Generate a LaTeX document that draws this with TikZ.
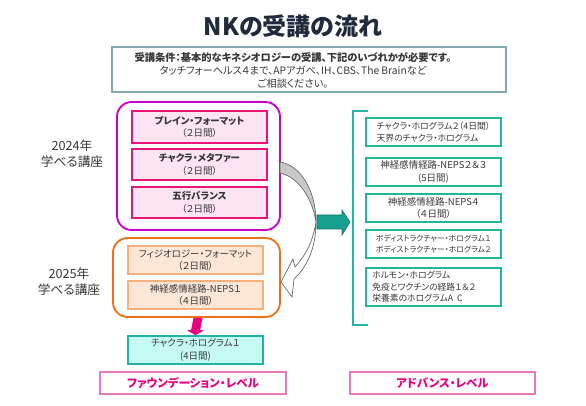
\documentclass[tikz,border=0pt]{standalone}
\usepackage{fontspec}
\setmainfont{Noto Sans CJK JP}[RawFeature=+palt]
\usetikzlibrary{calc,fit}
\definecolor{titlecol}{RGB}{31,42,58}
\definecolor{txt}{RGB}{55,55,55}
\definecolor{condline}{RGB}{130,168,176}
\definecolor{magout}{RGB}{204,0,204}
\definecolor{pinkline}{RGB}{232,20,120}
\definecolor{pinkfill}{RGB}{252,228,240}
\definecolor{orgout}{RGB}{240,112,24}
\definecolor{orgline}{RGB}{246,176,124}
\definecolor{orgfill}{RGB}{252,230,214}
\definecolor{tealc}{RGB}{32,180,164}
\definecolor{aquafill}{RGB}{196,250,242}
\definecolor{magarrow}{RGB}{232,0,128}
\definecolor{tealarrow}{RGB}{22,160,142}
\definecolor{tealdark}{RGB}{20,120,110}
\definecolor{lvlline}{RGB}{232,120,190}
\definecolor{lvltext}{RGB}{232,0,128}
\definecolor{crescent}{RGB}{200,200,200}
\definecolor{arrline}{RGB}{100,100,100}
\begin{document}
\begin{tikzpicture}[x=0.75pt,y=-0.75pt,
  fitbox/.style={inner sep=0pt, fit={#1}},
  outerbox/.style={fitbox={#1}, rounded corners=11pt, line width=1.4pt},
  pinkbox/.style={fitbox={#1}, draw=pinkline, fill=pinkfill, line width=1.4pt},
  orgbox/.style={fitbox={#1}, draw=orgline, fill=orgfill, line width=1.2pt},
  tealbox/.style={fitbox={#1}, draw=tealc, line width=1.2pt},
  lvlbox/.style={fitbox={#1}, draw=lvlline, line width=0.9pt},
  boxtxt/.style={align=center, text=txt, inner sep=0pt, font=\fontsize{7.1}{9.2}\selectfont},
  lefttxt/.style={align=left, text=txt, inner sep=0pt, font=\fontsize{6.6}{8.6}\selectfont},
  yeartxt/.style={align=center, text=txt, inner sep=0pt, font=\fontsize{9.5}{12}\selectfont},
  lvltxt/.style={text=lvltext, inner sep=0pt, font=\fontsize{8.6}{10}\selectfont\bfseries}
]
\useasboundingbox (0,0) rectangle (586,406);

% title
\node[text=titlecol, font=\fontsize{18}{20}\selectfont\bfseries, inner sep=0pt] (title) at (293,26) {NKの受講の流れ};

% condition box
\node[fitbox={(112,47) (506,92)}, draw=condline, line width=0.9pt] (cond) {};
\node[align=center, text=txt, inner sep=0pt, font=\fontsize{7.7}{10}\selectfont] (condtxt) at (293,70.5)
  {\textbf{受講条件：基本的なキネシオロジーの受講、下記のいづれかが必要です。}\\
   タッチフォーヘルス４まで、APアガペ、IH、CBS、The Brainなど\\
   ご相談ください。};

% 2024
\node[yeartxt] (y24) at (72,154) {2024年\\学べる講座};
\node[outerbox={(117,102) (280,230)}, draw=magout] (mag) {};
\node[pinkbox={(132,111) (267,143)}] (p1) {};
\node[boxtxt] (p1t) at (p1) {\textbf{プレイン・フォーマット}\\（２日間）};
\node[pinkbox={(132,149) (267,180)}] (p2) {};
\node[boxtxt] (p2t) at (p2) {\textbf{チャクラ・メタファー}\\（２日間）};
\node[pinkbox={(132,187) (267,218)}] (p3) {};
\node[boxtxt] (p3t) at (p3) {\textbf{五行バランス}\\（２日間）};

% 2025
\node[yeartxt] (y25) at (69,282) {2025年\\学べる講座};
\node[outerbox={(113,238) (280,317)}, draw=orgout] (org) {};
\node[orgbox={(128,246) (263,274)}] (o1) {};
\node[boxtxt] (o1t) at (o1) {フィジオロジー・フォーマット\\（２日間）};
\node[orgbox={(128,281) (263,309)}] (o2) {};
\node[boxtxt] (o2t) at (o2) {神経感情経路-NEPS１\\（４日間）};

% chakra hologram 1
\node[tealbox={(128,336) (263,364)}, fill=aquafill] (ch1) {};
\node[boxtxt] (ch1t) at (ch1) {チャクラ・ホログラム１\\(4日間)};

% down arrow
\fill[magarrow] ($(org.south)+(-3,0)$) coordinate (da1)
  -- ($(ch1.north)+(-4.5,-5)$) -- ($(ch1.north)+(-8.5,-5)$) -- (ch1.north)
  -- ($(ch1.north)+(8.5,-5)$) -- ($(ch1.north)+(4.5,-5)$) -- ($(org.south)+(6,0)$) -- cycle;

% level labels
\node[lvlbox={(100,372) (286,394)}] (lv1) {};
\node[lvltxt] (lv1t) at (lv1) {ファウンデーション・レベル};
\node[lvlbox={(350,372) (535,394)}] (lv2) {};
\node[lvltxt] (lv2t) at (lv2) {アドバンス・レベル};

% bracket
\coordinate (brt) at (368,111);
\coordinate (brb) at (368,325);
\draw[tealc, line width=1.3pt] (brt) -- (353,111) -- (353,325) -- (brb);

% right boxes
\node[tealbox={(366,118) (501,146)}] (r1) {};
\node[lefttxt] (r1t) at (r1) {チャクラ・ホログラム２（4日間）\\天界のチャクラ・ホログラム};
\node[tealbox={(366,158) (501,186)}] (r2) {};
\node[boxtxt] (r2t) at (r2) {神経感情経路-NEPS２＆３\\(5日間)};
\node[tealbox={(366,194) (501,222)}] (r3) {};
\node[boxtxt] (r3t) at (r3) {神経感情経路-NEPS４\\（４日間）};
\node[tealbox={(366,230) (501,258)}] (r4) {};
\node[lefttxt, font=\fontsize{5.9}{8.6}\selectfont] (r4t) at (r4) {ボディストラクチャー・ホログラム１\\ボディストラクチャー・ホログラム２};
\node[tealbox={(366,268) (501,306)}] (r5) {};
\node[lefttxt, anchor=west] (r5t) at (372,287) {ホルモン・ホログラム\\免疫とワクチンの経路１＆２\\栄養素のホログラムA\ \ C};

% curved arrow
\filldraw[fill=crescent, draw=arrline, line width=0.5pt]
  (280,162) .. controls (300,165) and (316,190) .. (316,222)
  .. controls (312,197) and (298,177) .. (280,173) -- cycle;
\filldraw[fill=white, draw=arrline, line width=0.5pt]
  (316,222) .. controls (316,248) and (307,267) .. (294,279)
  -- (292,297) -- (281,282) -- (293,259) -- (295,267)
  .. controls (305,256) and (313,242) .. (316,222) -- cycle;

% teal arrow
\filldraw[fill=tealarrow, draw=tealdark, line width=0.5pt]
  (317,215) -- (342,215) -- (342,210) -- (350,222) -- (342,235) -- (342,229) -- (317,229) -- cycle;
\end{tikzpicture}
\end{document}
